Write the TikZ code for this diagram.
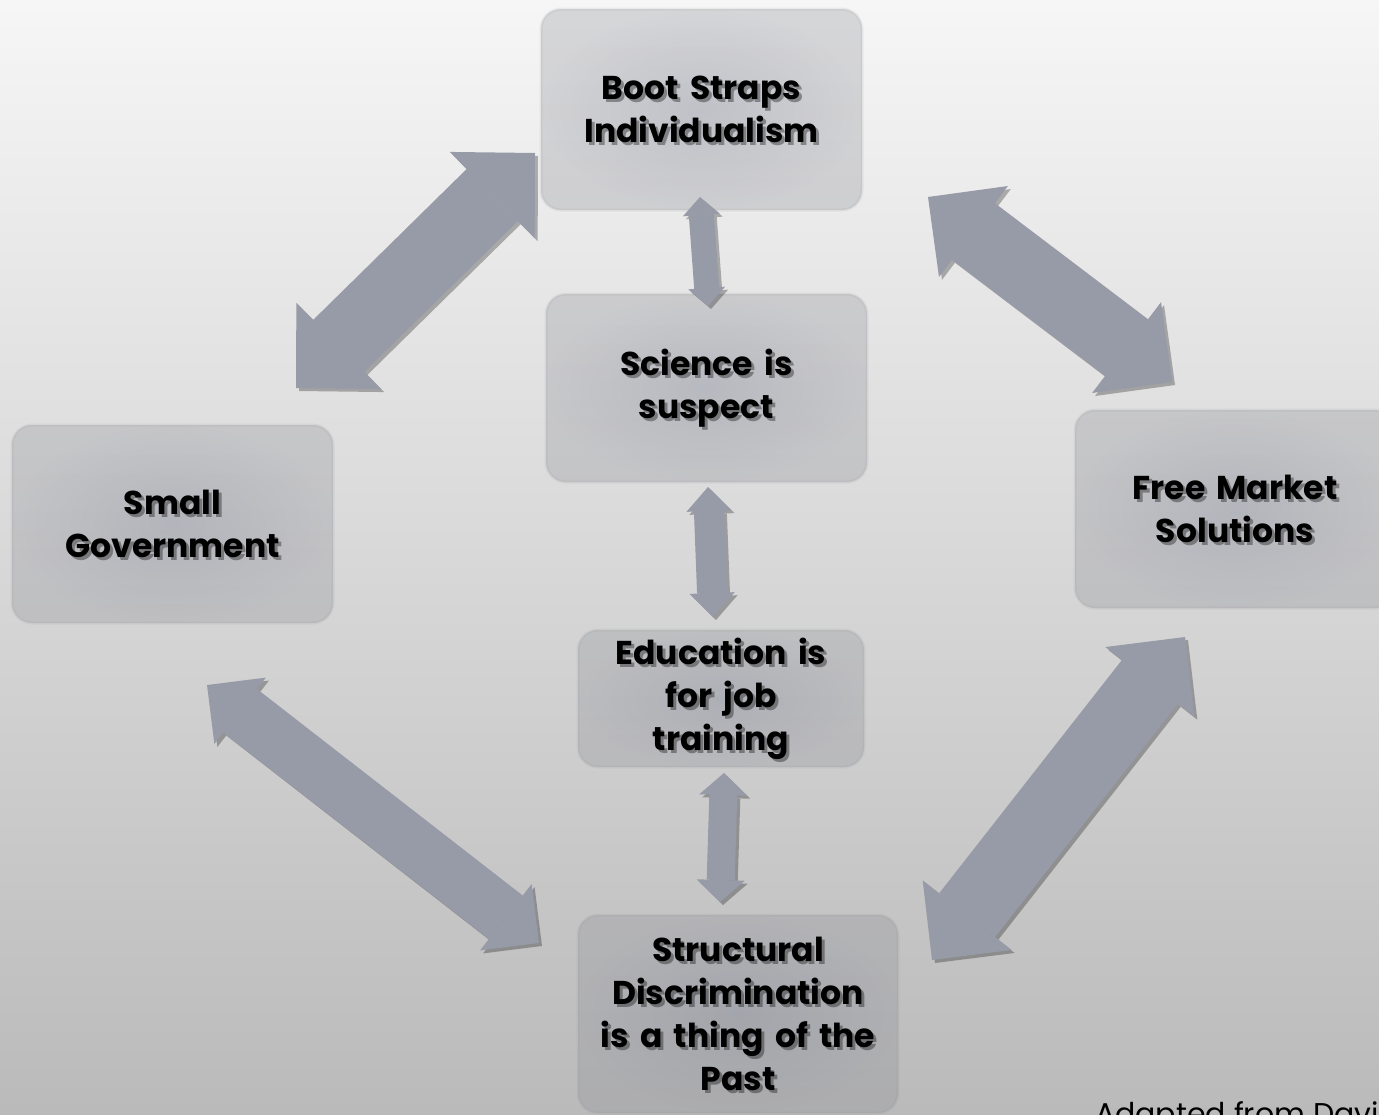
\documentclass[tikz,border=0pt]{standalone}
\usepackage{fontspec}
\setmainfont{Poppins}[WordSpace=1.6]
\newfontfamily\footfont{Poppins}
\usetikzlibrary{arrows.meta,fadings}
\definecolor{arrc}{RGB}{151,154,167}
\definecolor{boxc}{RGB}{141,143,150}
\definecolor{tintc}{RGB}{110,118,145}
\definecolor{bgtop}{RGB}{246,246,246}
\definecolor{bgmid}{RGB}{222,222,222}
\definecolor{bgbot}{RGB}{186,186,186}
\tikzfading[name=radfade, inner color=transparent!0, outer color=transparent!100]
\tikzset{
  ibox/.style={rounded corners=20pt, inner sep=0pt, fill=boxc, fill opacity=0.3,
    draw=boxc, draw opacity=0.12, line width=3pt,
    path picture={\fill[tintc, fill opacity=0.18, path fading=radfade, fit fading=true]
      (path picture bounding box.south west) rectangle (path picture bounding box.north east);}},
  itext/.style={inner sep=0pt, align=center, font=\fontsize{33}{43}\selectfont\bfseries},
  dblarrow/.style n args={3}{line width=#1pt, draw=arrc,
    arrows={Triangle[width=#2pt,length=#3pt,line width=0pt,fill=arrc]-Triangle[width=#2pt,length=#3pt,line width=0pt,fill=arrc]}},
  dblshadow/.style n args={3}{line width=#1pt, draw=black,
    arrows={Triangle[width=#2pt,length=#3pt,line width=0pt,fill=black]-Triangle[width=#2pt,length=#3pt,line width=0pt,fill=black]}},
  foot/.style={inner sep=0pt, anchor=base west, font=\footfont\fontsize{30}{36}\selectfont}
}
\newcommand\mybox[6]{%
  \node[ibox, minimum width=#4pt, minimum height=#5pt] (#1) at (#2,#3) {};
  \node[itext, text=black, text opacity=0.35] (#1s) at ([shift={(3pt,-3pt)}]#1.center) {#6};
  \node[itext, text=black] (#1t) at (#1.center) {#6};
}
\newcommand\myarrow[5]{%
  \begin{scope}[transparency group, opacity=0.28, transform canvas={shift={(3pt,-3pt)}}]
    \draw[dblshadow={#3}{#4}{#5}] (#1) -- (#2);
  \end{scope}
  \draw[dblarrow={#3}{#4}{#5}] (#1) -- (#2);
}
\begin{document}
\begin{tikzpicture}[x=1pt,y=-1pt]
\useasboundingbox (0,0) rectangle (1379,1114);
\clip (0,0) rectangle (1379,1114);
\shade[top color=bgtop, middle color=bgmid, bottom color=bgbot] (0,0) rectangle (1379,1114);

\mybox{boot}{701.5}{109.5}{321}{201}{Boot Straps\\Individualism}
\mybox{sci}{706.5}{388}{321}{188}{Science is\\suspect}
\mybox{small}{172.5}{524}{321}{198}{Small\\Government}
\mybox{free}{1235}{509}{320}{198}{Free Market\\Solutions}
\mybox{edu}{721}{698.5}{286}{137}{Education is\\for job\\training}
\mybox{str}{738}{1014}{320}{198}{Structural\\Discrimination\\is a thing of the\\Past}

\coordinate (a1s) at (296,388);  \coordinate (a1e) at (535,153);
\coordinate (a2s) at (928,197);  \coordinate (a2e) at (1172,382);
\coordinate (a3s) at (700,197);  \coordinate (a3e) at (708,306);
\coordinate (a4s) at (708,487);  \coordinate (a4e) at (713,617);
\coordinate (a5s) at (724,773);  \coordinate (a5e) at (720,902);
\coordinate (a6s) at (207,685);  \coordinate (a6e) at (539,943);
\coordinate (a7s) at (1185,637); \coordinate (a7e) at (932,960);

\myarrow{a1s}{a1e}{73}{121}{60}
\myarrow{a2s}{a2e}{71}{114}{57}
\myarrow{a3s}{a3e}{25}{37}{18}
\myarrow{a4s}{a4e}{30}{45}{24}
\myarrow{a5s}{a5e}{28}{48}{22}
\myarrow{a6s}{a6e}{55}{84}{42}
\myarrow{a7s}{a7e}{71}{113}{57}

\node[foot] (note) at (1095,1124) {Adapted from Davi};
\end{tikzpicture}
\end{document}
